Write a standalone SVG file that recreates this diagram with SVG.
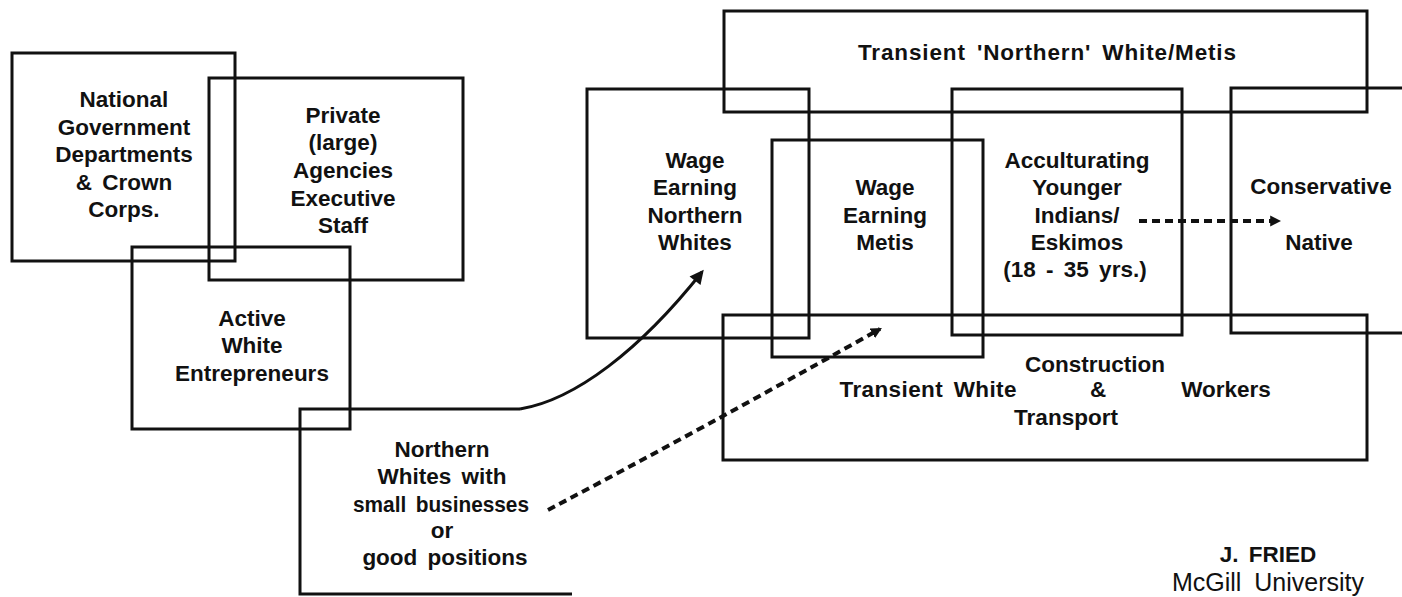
<svg xmlns="http://www.w3.org/2000/svg" width="1402" height="597" viewBox="0 0 1402 597">
<style>
.box{fill:none;stroke:#111;stroke-width:3}
.t{font-family:"Liberation Sans",Arial,sans-serif;font-weight:bold;font-size:22.5px;word-spacing:4px;fill:#111;text-anchor:middle}
.ts{font-family:"Liberation Sans",Arial,sans-serif;font-weight:normal;font-size:25px;word-spacing:6px;fill:#111;text-anchor:middle}
.curve{fill:none;stroke:#111;stroke-width:3}
.dot{fill:none;stroke:#111;stroke-width:4;stroke-dasharray:8 5}
</style>
<defs>
<marker id="ah" viewBox="0 0 10 10" refX="8" refY="5" markerUnits="userSpaceOnUse" markerWidth="18" markerHeight="14" orient="auto"><path d="M0,0 L10,5 L0,10 z" fill="#111"/></marker>
<marker id="ahs" viewBox="0 0 10 10" refX="8" refY="5" markerUnits="userSpaceOnUse" markerWidth="11" markerHeight="12" orient="auto"><path d="M0,0 L10,5 L0,10 z" fill="#111"/></marker>
</defs>
<rect width="1402" height="597" fill="#fff"/>

<g id="national">
<rect class="box" x="12" y="53" width="223" height="208"/>
<text class="t" x="124" y="107">National</text>
<text class="t" x="124" y="135">Government</text>
<text class="t" x="124" y="162">Departments</text>
<text class="t" x="124" y="190">&amp; Crown</text>
<text class="t" x="124" y="217">Corps.</text>
</g>

<g id="private">
<rect class="box" x="209" y="78" width="254" height="202"/>
<text class="t" x="343" y="123">Private</text>
<text class="t" x="343" y="150">(large)</text>
<text class="t" x="343" y="178">Agencies</text>
<text class="t" x="343" y="206">Executive</text>
<text class="t" x="343" y="233">Staff</text>
</g>

<g id="active">
<rect class="box" x="132" y="247" width="218" height="182"/>
<text class="t" x="252" y="326">Active</text>
<text class="t" x="252" y="353">White</text>
<text class="t" x="252" y="381">Entrepreneurs</text>
</g>

<g id="northern-small">
<path class="box" d="M572,594 L300,594 L300,409 L520,409"/>
<text class="t" x="442" y="457">Northern</text>
<text class="t" x="442" y="484">Whites with</text>
<text class="t" x="441" y="512" textLength="176" lengthAdjust="spacingAndGlyphs">small businesses</text>
<text class="t" x="442" y="538">or</text>
<text class="t" x="445" y="565">good positions</text>
</g>

<g id="transient-northern">
<rect class="box" x="724" y="11" width="643" height="101"/>
<text class="t" x="1047" y="60" textLength="378" lengthAdjust="spacing">Transient 'Northern' White/Metis</text>
</g>

<g id="wage-whites">
<rect class="box" x="587" y="89" width="222" height="249"/>
<text class="t" x="695" y="168">Wage</text>
<text class="t" x="695" y="195">Earning</text>
<text class="t" x="695" y="223">Northern</text>
<text class="t" x="695" y="250">Whites</text>
</g>

<g id="wage-metis">
<rect class="box" x="772" y="140" width="211" height="217"/>
<text class="t" x="885" y="195">Wage</text>
<text class="t" x="885" y="223">Earning</text>
<text class="t" x="885" y="250">Metis</text>
</g>

<g id="acculturating">
<rect class="box" x="952" y="89" width="230" height="246"/>
<text class="t" x="1077" y="168">Acculturating</text>
<text class="t" x="1077" y="195">Younger</text>
<text class="t" x="1077" y="223">Indians/</text>
<text class="t" x="1077" y="250">Eskimos</text>
<text class="t" x="1075" y="277">(18 - 35 yrs.)</text>
</g>

<g id="conservative">
<path class="box" d="M1402,88 L1231,88 L1231,333 L1402,333"/>
<text class="t" x="1321" y="194">Conservative</text>
<text class="t" x="1319" y="250">Native</text>
</g>

<g id="transient-white">
<rect class="box" x="723" y="315" width="644" height="145"/>
<text class="t" x="928" y="397" textLength="177" lengthAdjust="spacing">Transient White</text>
<text class="t" x="1095" y="372">Construction</text>
<text class="t" x="1098" y="397">&amp;</text>
<text class="t" x="1066" y="425">Transport</text>
<text class="t" x="1226" y="397">Workers</text>
</g>

<g id="credit">
<text class="t" x="1268" y="562">J. FRIED</text>
<text class="ts" x="1268" y="591">McGill University</text>
</g>

<g id="connectors">
<path class="curve" d="M520,409 C575,400 640,350 702,272" marker-end="url(#ah)"/>
<path class="dot" d="M548,510 Q700,430 880,329" marker-end="url(#ahs)"/>
<path class="dot" d="M1139,221 L1279,221" marker-end="url(#ahs)"/>
</g>
</svg>
